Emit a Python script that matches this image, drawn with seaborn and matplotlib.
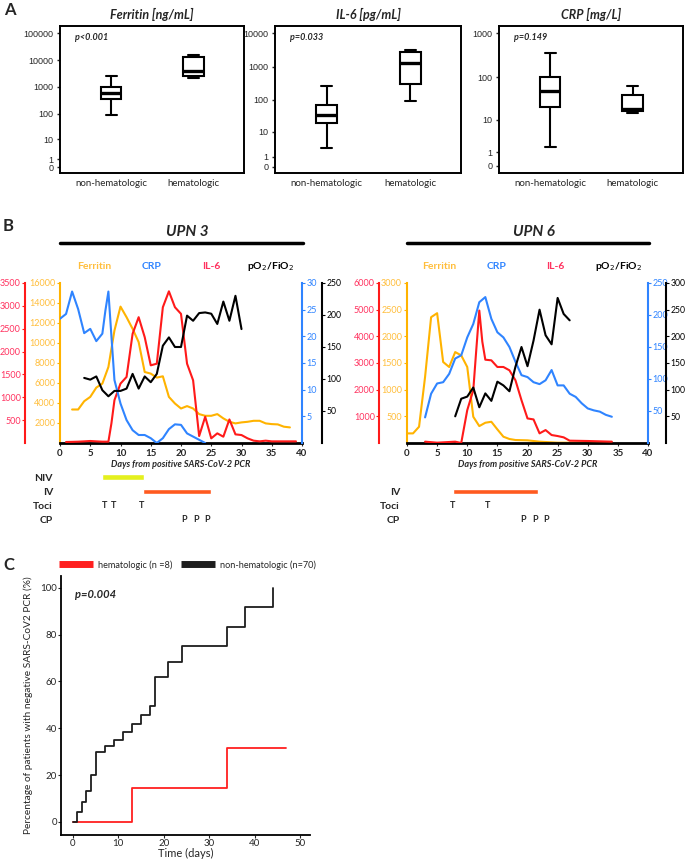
import numpy as np
import pandas as pd
import matplotlib
matplotlib.use("Agg")
import matplotlib.pyplot as plt
from matplotlib.lines import Line2D
import seaborn as sns

# ---------------- panel A: five-number summaries (min, q1, median, q3, max)
box_markers = ["Ferritin [ng/mL]", "IL-6 [pg/mL]", "CRP [mg/L]"]
box_groups = ["non-hematologic", "hematologic"]
box_pvalues = ["p<0.001", "p=0.033", "p=0.149"]
ferritin_nonhem = [87, 350, 590, 980, 2540]
ferritin_hem = [2100, 2540, 3900, 13500, 15000]
il6_nonhem = [2.5, 20, 35, 72, 260]
il6_hem = [95, 310, 1250, 2700, 3100]
crp_nonhem = [1.6, 20, 49, 104, 365]
crp_hem = [15, 16, 18.5, 39, 64]
ferritin_ticks = [0, 1, 10, 100, 1000, 10000, 100000]
il6_ticks = [0, 1, 10, 100, 1000, 10000]
crp_ticks = [0, 1, 10, 100, 1000]

# ---------------- panel B: UPN 3
u3_fer_days = list(range(2, 39))
u3_fer = [3350, 3350, 4180, 4610, 5540, 5940, 7600, 11250, 13640, 12580, 11420, 10090, 7100,
          6940, 6540, 6670, 4610, 3950, 3450, 3690, 3450, 2890, 2720, 2720, 2890, 2460, 2120,
          1960, 2060, 2120, 2220, 2220, 1960, 1890, 1860, 1630, 1560]
u3_crp_days = [0, 1, 2, 3, 4, 5, 6, 7, 7.5, 8, 8.5, 9, 10, 11, 12, 13, 14, 15, 16, 17, 18, 19,
               20, 21, 22, 23, 24]
u3_crp = [23.3, 24.2, 28.4, 25.1, 20.6, 21.4, 19.1, 20.5, 24.8, 28.4, 20.0, 11.8, 7.4, 4.3, 2.4,
          1.5, 1.5, 0.9, 0.0, 0.9, 2.6, 3.5, 3.4, 1.8, 1.2, 0.6, 0.0]
u3_il6_days = [1, 2, 3, 4, 5, 6, 7, 8, 8.5, 9, 10, 11, 12, 13, 14, 15, 16, 17, 18, 19, 20, 21,
               22, 23, 24, 25, 26, 27, 28, 29, 30, 31, 32, 33, 34, 35, 36, 37, 38, 39]
u3_il6 = [22, 25, 29, 36, 44, 36, 29, 29, 430, 937, 1300, 1445, 2389, 2752, 2316, 1699, 1735,
          2970, 3318, 2970, 2825, 1735, 1372, 152, 574, 102, 211, 138, 515, 189, 174, 102, 51,
          36, 51, 36, 36, 36, 36, 36]
u3_po2_days = list(range(4, 31))
u3_po2 = [101.7, 99, 104, 82.5, 73, 81.4, 81.4, 85, 108, 85, 104, 95, 108, 152, 165, 150, 150,
          199, 191, 203, 204, 202, 186, 221, 191, 230, 178]

# ---------------- panel B: UPN 6
u6_fer_days = [0, 1, 2, 3, 4, 5, 6, 7, 8, 9, 10, 11, 12, 13, 14, 15, 16, 17, 18, 20, 22, 25, 34]
u6_fer = [180, 180, 305, 1239, 2359, 2434, 1519, 1425, 1705, 1643, 1425, 492, 317, 380, 398,
          255, 118, 75, 56, 50, 25, 6, 6]
u6_crp_days = list(range(3, 35))
u6_crp = [40, 77, 93, 95, 108, 132, 137, 165, 186, 220, 228, 194, 173, 165, 150, 127, 106, 103,
          95, 92, 98, 114, 90, 90, 77, 72, 62, 54, 51, 49, 44, 41]
u6_il6_days = [3, 5, 8, 9, 10, 11, 11.5, 12, 12.5, 13, 14, 15, 16, 17, 18, 19, 20, 21, 22, 23,
               24, 25, 26, 27, 30, 34]
u6_il6 = [50, 12, 50, 0, 1232, 1979, 3500, 4967, 3800, 3124, 3100, 2851, 2851, 2726, 2353, 1606,
          921, 884, 361, 485, 299, 261, 212, 87, 75, 50]
u6_po2_days = list(range(8, 28))
u6_po2 = [50, 83, 87, 104, 67, 93, 79, 115, 108, 97, 143, 180, 144, 192, 250, 202, 185, 272,
          242, 230]

# treatments (day ranges / day marks)
u3_rows = ["NIV", "IV", "Toci", "CP"]
u3_niv = (6.9, 13.9)
u3_iv = (13.8, 24.9)
u3_toci = [7.3, 8.9, 13.5]
u3_cp = [20.5, 22.5, 24.3]
u6_rows = ["", "IV", "Toci", "CP"]
u6_iv = (7.6, 21.7)
u6_toci = [7.6, 13.4]
u6_cp = [19.2, 21.2, 23.1]

# ---------------- panel C: Kaplan-Meier style steps
km_groups = ["hematologic (n =8)", "non-hematologic (n=70)"]
km_hem_days = [0, 13, 34, 47]
km_hem_pct = [0, 14.4, 31.4, 31.4]
km_non_days = [0, 1, 2, 3, 4, 5, 7, 9, 11, 13, 15, 17, 18, 21, 24, 34, 38, 44]
km_non_pct = [0, 4.3, 8.5, 13.1, 20.1, 29.9, 32.4, 34.9, 38.5, 41.8, 45.5, 49.5, 62, 68.4, 75,
              83.2, 91.6, 100]

FER_C = "#FFB300"
FER_T = "#FFBE3C"
CRP_C = "#2F84FF"
IL6_C = "#FF1A1A"
IL6_T = "#FF3360"
NIV_C = "#E4F01E"
IV_C = "#FF5A20"

sns.set_style("white")
plt.rcParams["font.family"] = ["Lato", "DejaVu Sans"]

W, H = 685, 860
fig = plt.figure(figsize=(W / 100, H / 100), dpi=100)


def fx(px):
    return px / W


def fy(py):
    return 1 - py / H


def add_ax(x0, y0, x1, y1):
    return fig.add_axes([x0 / W, 1 - y1 / H, (x1 - x0) / W, (y1 - y0) / H])


def fwd(v):
    return np.log10(np.clip(np.asarray(v, dtype=float) + 1, 1e-6, None))


def inv(v):
    return 10 ** np.asarray(v, dtype=float) - 1


# ================= panel A
box_data = [(ferritin_nonhem, ferritin_hem), (il6_nonhem, il6_hem), (crp_nonhem, crp_hem)]
box_ticks = [ferritin_ticks, il6_ticks, crp_ticks]
box_ylims = [(-0.39, 186000), (-0.36, 16700), (-0.32, 1476)]
box_pos = [(60, 244), (275, 461), (499, 683)]
MED_LW = 2.4

for i in range(3):
    x0, x1 = box_pos[i]
    ax = add_ax(x0, 26, x1, 173)
    nonhem, hem = box_data[i]
    df = pd.DataFrame({"group": [box_groups[0]] * len(nonhem) + [box_groups[1]] * len(hem),
                       "value": nonhem + hem})
    sns.boxplot(data=df, x="group", y="value", order=box_groups, ax=ax, width=0.25,
                whis=(0, 100), color="white", linecolor="black", linewidth=1.5, fliersize=0,
                medianprops=dict(linewidth=MED_LW))
    # caps narrower than the box, as in the original
    for ln in ax.lines:
        xd = np.asarray(ln.get_xdata(), dtype=float)
        yd = np.asarray(ln.get_ydata(), dtype=float)
        if len(xd) == 2 and xd[0] != xd[1] and yd[0] == yd[1] and ln.get_linewidth() != MED_LW:
            mid = xd.mean()
            ln.set_xdata([mid - 0.065, mid + 0.065])
    ax.set_yscale("function", functions=(fwd, inv))
    ax.set_ylim(*box_ylims[i])
    ax.set_xlim(-0.62, 1.61)
    ax.set_yticks(box_ticks[i])
    ax.set_yticklabels([str(t) for t in box_ticks[i]])
    ax.minorticks_off()
    ax.set_xlabel("")
    ax.set_ylabel("")
    for sp in ax.spines.values():
        sp.set_visible(True)
        sp.set_linewidth(1.4)
        sp.set_color("black")
    ax.tick_params(axis="y", labelsize=6.5, length=2.5, width=1, left=True, pad=2)
    ax.tick_params(axis="x", labelsize=7, length=0, pad=4)
    for lbl in ax.get_yticklabels():
        lbl.set_fontfamily("Liberation Sans")
    ax.set_title(box_markers[i], fontsize=9, fontweight="bold", style="italic", pad=5)
    ax.text(0.08, 0.92, box_pvalues[i], transform=ax.transAxes, fontsize=6.5,
            fontweight="bold", style="italic", va="center")

fig.text(fx(4), fy(10), "A", fontsize=12, fontweight="bold", va="center")


# ================= panel B
def draw_patient(x0, x1, title, fer, crp, il6, po2, ticks, red_px, black_px, label_x):
    width = x1 - x0
    fer_ticks, il6_ticks_, crp_ticks_, po2_ticks = ticks

    ax_f = add_ax(x0, 283, x1, 443)
    sns.lineplot(x=fer[0], y=fer[1], ax=ax_f, color=FER_C, linewidth=1.5)
    ax_r = ax_f.twinx()
    sns.lineplot(x=il6[0], y=il6[1], ax=ax_r, color=IL6_C, linewidth=1.5)
    ax_c = ax_f.twinx()
    sns.lineplot(x=crp[0], y=crp[1], ax=ax_c, color=CRP_C, linewidth=1.5)
    ax_p = ax_f.twinx()
    sns.lineplot(x=po2[0], y=po2[1], ax=ax_p, color="black", linewidth=1.5)

    ax_f.set_xlim(0, 40)
    ax_f.set_xticks(range(0, 41, 5))
    ax_f.set_ylim(0, fer_ticks[-1])
    ax_f.set_yticks(fer_ticks)
    for sp in ax_f.spines.values():
        sp.set_visible(False)
    ax_f.spines["left"].set_visible(True)
    ax_f.spines["left"].set_color(FER_C)
    ax_f.spines["left"].set_linewidth(1.5)
    ax_f.spines["bottom"].set_visible(True)
    ax_f.spines["bottom"].set_color("black")
    ax_f.spines["bottom"].set_linewidth(2)
    ax_f.tick_params(axis="y", colors=FER_C, labelcolor=FER_T, labelsize=6.5, length=2,
                     left=True, pad=1.5)
    ax_f.tick_params(axis="x", labelsize=7, length=2.5, bottom=True, pad=1.5)
    for lbl in ax_f.get_xticklabels():
        lbl.set_fontweight("bold")
    ax_f.set_xlabel("Days from positive SARS-CoV-2 PCR", fontsize=6.5, fontweight="bold",
                    style="italic", labelpad=2)
    ax_f.set_ylabel("")

    axis_specs = [(ax_r, il6_ticks_, IL6_C, IL6_T, "left", (red_px - x0) / width, 6.5),
                  (ax_c, crp_ticks_, CRP_C, CRP_C, "right", 1.0, 6.5),
                  (ax_p, po2_ticks, "black", "black", "right", (black_px - x0) / width, 6.2)]
    for ax_t, tk, col, tcol, side, pos, fs in axis_specs:
        ax_t.set_ylim(0, tk[-1])
        ax_t.set_yticks(tk)
        ax_t.set_ylabel("")
        for sp in ax_t.spines.values():
            sp.set_visible(False)
        ax_t.yaxis.set_ticks_position(side)
        ax_t.spines[side].set_visible(True)
        ax_t.spines[side].set_position(("axes", pos))
        ax_t.spines[side].set_color(col)
        ax_t.spines[side].set_linewidth(1.5)
        ax_t.tick_params(axis="y", colors=col, labelcolor=tcol, labelsize=fs, length=2,
                         pad=1)
    ax_f.set_xlim(0, 40)

    # title and series labels
    cx = (x0 + x1) / 2 + 6
    fig.text(fx(cx), fy(232), title, fontsize=11, fontweight="bold", style="italic",
             ha="center", va="center")
    fig.add_artist(Line2D([fx(x0), fx(x1 + 1)], [fy(243), fy(243)], color="black", lw=2.5))
    names = ["Ferritin", "CRP", "IL-6", r"pO$_2$/FiO$_2$"]
    cols = [FER_T, CRP_C, IL6_T, "black"]
    for nm, col, lx in zip(names, cols, label_x):
        fig.text(fx(lx), fy(267), nm, color=col, fontsize=7.5, fontweight="bold",
                 ha="center", va="center")
    return ax_f


def draw_treatments(x0, x1, rows, bars, toci, cp):
    ax = add_ax(x0, 470, x1, 527)
    ax.set_xlim(0, 40)
    ax.set_ylim(3.5, -0.5)
    for (row, (start, end), col) in bars:
        ax.barh(row, end - start, left=start, height=0.38, color=col)
    for d in toci:
        ax.text(d, 2, "T", ha="center", va="center", fontsize=6.5, fontweight="bold")
    for d in cp:
        ax.text(d, 3, "P", ha="center", va="center", fontsize=6.5, fontweight="bold")
    ax.set_yticks(range(len(rows)))
    ax.set_yticklabels(rows)
    ax.tick_params(axis="y", length=0, labelsize=7.5, pad=5)
    for lbl in ax.get_yticklabels():
        lbl.set_fontweight("bold")
    ax.set_xticks([])
    for sp in ax.spines.values():
        sp.set_visible(False)
    ax.patch.set_alpha(0)


draw_patient(60, 302, "UPN 3",
             (u3_fer_days, u3_fer), (u3_crp_days, u3_crp), (u3_il6_days, u3_il6),
             (u3_po2_days, u3_po2),
             (list(range(2000, 16001, 2000)), list(range(500, 3501, 500)),
              list(range(5, 31, 5)), list(range(50, 251, 50))),
             25, 322, [94, 152, 211, 270])
draw_patient(407, 648, "UPN 6",
             (u6_fer_days, u6_fer), (u6_crp_days, u6_crp), (u6_il6_days, u6_il6),
             (u6_po2_days, u6_po2),
             (list(range(500, 3001, 500)), list(range(1000, 6001, 1000)),
              list(range(50, 251, 50)), list(range(50, 301, 50))),
             379, 666, [439, 497, 555, 618])

draw_treatments(60, 302, u3_rows, [(0, u3_niv, NIV_C), (1, u3_iv, IV_C)], u3_toci, u3_cp)
draw_treatments(407, 648, u6_rows, [(1, u6_iv, IV_C)], u6_toci, u6_cp)

fig.text(fx(3), fy(226), "B", fontsize=12, fontweight="bold", va="center")

# ================= panel C
ax_km = add_ax(61, 576, 310, 835)
km_df = pd.DataFrame({
    "day": km_hem_days + km_non_days,
    "pct": km_hem_pct + km_non_pct,
    "group": [km_groups[0]] * len(km_hem_days) + [km_groups[1]] * len(km_non_days),
})
sns.lineplot(data=km_df, x="day", y="pct", hue="group", hue_order=km_groups,
             palette=["#FF2020", "#1E1E1E"], drawstyle="steps-post", estimator=None,
             linewidth=1.3, ax=ax_km)
ax_km.set_xlim(-2.6, 52.2)
ax_km.set_ylim(-5.6, 105)
ax_km.set_xticks(range(0, 51, 10))
ax_km.set_yticks(range(0, 101, 20))
sns.despine(ax=ax_km)
for side in ["left", "bottom"]:
    ax_km.spines[side].set_color("black")
    ax_km.spines[side].set_linewidth(1.3)
ax_km.tick_params(axis="both", labelsize=7, length=2, left=True, bottom=True, pad=1)
ax_km.set_xlabel("Time (days)", fontsize=8, labelpad=0)
ax_km.set_ylabel("Percentage of patients with negative SARS-CoV2 PCR (%)", fontsize=7.3,
                 labelpad=5)
ax_km.text(0.5, 97, "p=0.004", fontsize=8, fontweight="bold", style="italic", va="center")
sns.move_legend(ax_km, "center left", bbox_to_anchor=(-0.008, 1.043), ncol=2, frameon=False,
                title=None, fontsize=6.6, handlelength=3.7, handletextpad=0.5,
                columnspacing=1.0, borderaxespad=0, borderpad=0)
for ln in ax_km.get_legend().get_lines():
    ln.set_linewidth(5)
    ln.set_solid_capstyle("butt")

fig.text(fx(3), fy(565), "C", fontsize=12, fontweight="bold", va="center")

fig.savefig("out.png", dpi=100)
